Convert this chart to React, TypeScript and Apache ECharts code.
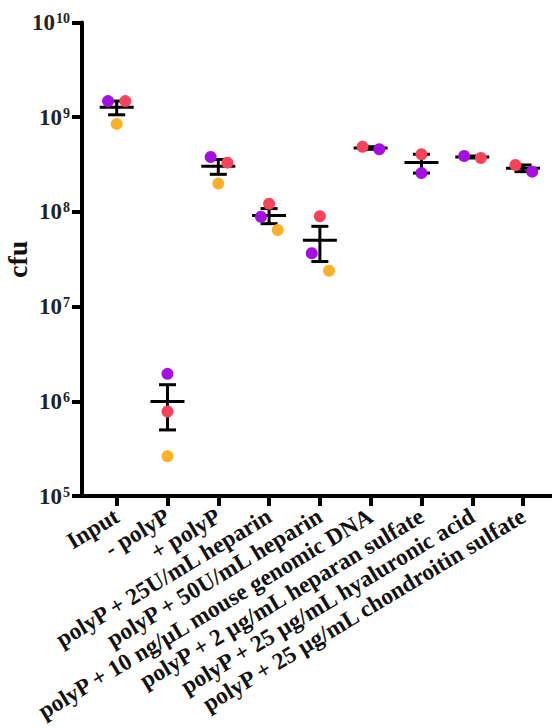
import React, { useEffect, useRef } from 'react';
import * as echarts from 'echarts';

const categories = [
  'Input',
  '- polyP',
  '+ polyP',
  'polyP + 25U/mL heparin',
  'polyP + 50U/mL heparin',
  'polyP + 10 ng/µL mouse genomic DNA',
  'polyP + 2 µg/mL heparan sulfate',
  'polyP + 25 µg/mL hyaluronic acid',
  'polyP + 25 µg/mL chondroitin sulfate',
];

const purpleValues = [1.48e9, 1.95e6, 3.8e8, 8.9e7, 3.66e7, 4.58e8, 2.57e8, 3.89e8, 2.66e8];
const redValues = [1.48e9, 7.8e5, 3.31e8, 1.22e8, 9.0e7, 4.88e8, 4.06e8, 3.71e8, 3.13e8];
const orangeValues: (number | null)[] = [8.5e8, 2.63e5, 1.99e8, 6.44e7, 2.39e7, null, null, null, null];

// horizontal jitter of the dots inside each category (category units)
const purpleJitter = [-0.17, 0, -0.15, -0.16, -0.16, 0.17, 0, -0.16, 0.18];
const redJitter = [0.17, 0, 0.18, 0, 0, -0.16, 0, 0.17, -0.15];
const orangeJitter = [0, 0, 0, 0.17, 0.18, 0, 0, 0, 0];

const yMin = 1e5;
const yMax = 1e10;

const FONT = 'Liberation Serif';
const PURPLE = '#A50FDF';
const RED = '#F8435B';
const ORANGE = '#FDB12A';

function stats(i: number) {
  const vals = [purpleValues[i], redValues[i], orangeValues[i]].filter(
    (v): v is number => v != null
  );
  const n = vals.length;
  const mean = vals.reduce((a, b) => a + b, 0) / n;
  const sd = Math.sqrt(vals.reduce((a, b) => a + (b - mean) ** 2, 0) / (n - 1));
  const sem = sd / Math.sqrt(n);
  return [i + 1, mean, mean - sem, mean + sem];
}

export default function App() {
  const ref = useRef<HTMLDivElement>(null);
  useEffect(() => {
    if (!ref.current) return;
    const chart = echarts.init(ref.current, null, { renderer: 'svg' });
    const catPositions = categories.map((_, i) => i + 1);
    const pts = (vals: (number | null)[], jit: number[]) =>
      vals.map((v, i) => (v == null ? null : [i + 1 + jit[i], v])).filter((d) => d != null);

    chart.setOption({
      animation: false,
      backgroundColor: '#fff',
      textStyle: { fontFamily: FONT },
      grid: {
        left: 82,
        right: 0,
        top: 22.5,
        bottom: 232,
        containLabel: false,
        outerBoundsMode: 'none',
      },
      xAxis: {
        type: 'value',
        min: 0.317,
        max: 9.57,
        splitLine: { show: false },
        axisLine: { show: true, lineStyle: { color: '#000', width: 4 } },
        axisTick: {
          show: true,
          customValues: catPositions,
          length: 10,
          lineStyle: { color: '#000', width: 4 },
        },
        axisLabel: {
          customValues: catPositions,
          formatter: (v: number) => categories[Math.round(v) - 1] ?? '',
          rotate: 31,
          margin: 18,
          fontFamily: FONT,
          fontWeight: 'bold',
          fontSize: 23.5,
          color: '#111',
        },
      },
      yAxis: {
        type: 'log',
        logBase: 10,
        min: yMin,
        max: yMax,
        name: 'cfu',
        nameLocation: 'middle',
        nameGap: 51,
        nameMoveOverlap: false,
        nameTextStyle: { fontFamily: FONT, fontWeight: 'bold', fontSize: 28, color: '#111' },
        splitLine: { show: false },
        minorTick: { show: false },
        axisLine: { show: true, lineStyle: { color: '#000', width: 4 } },
        axisTick: { show: true, length: 10, lineStyle: { color: '#000', width: 4 } },
        axisLabel: {
          margin: 12,
          formatter: (v: number) => `{b|10}{s|${Math.round(Math.log10(v))}}`,
          rich: {
            b: { fontFamily: FONT, fontWeight: 'bold', fontSize: 23, lineHeight: 22, color: '#222' },
            s: {
              fontFamily: FONT,
              fontWeight: 'bold',
              fontSize: 14,
              lineHeight: 14,
              verticalAlign: 'top',
              color: '#222',
              padding: [0, 0, 0, 1],
            },
          },
        },
      },
      series: [
        {
          type: 'custom',
          z: 2,
          data: categories.map((_, i) => stats(i)),
          encode: { x: 0, y: [1, 2, 3] },
          renderItem: (params: any, api: any) => {
            const x = api.value(0);
            const c = api.coord([x, api.value(1)]);
            const lo = api.coord([x, api.value(2)]);
            const hi = api.coord([x, api.value(3)]);
            const style = { stroke: '#000', lineWidth: 3 };
            return {
              type: 'group',
              children: [
                { type: 'line', shape: { x1: c[0], y1: hi[1], x2: c[0], y2: lo[1] }, style },
                { type: 'line', shape: { x1: c[0] - 8.5, y1: hi[1], x2: c[0] + 8.5, y2: hi[1] }, style },
                { type: 'line', shape: { x1: c[0] - 8.5, y1: lo[1], x2: c[0] + 8.5, y2: lo[1] }, style },
                { type: 'line', shape: { x1: c[0] - 17, y1: c[1], x2: c[0] + 17, y2: c[1] }, style },
              ],
            };
          },
        },
        {
          type: 'scatter',
          z: 3,
          symbolSize: 12,
          itemStyle: { color: ORANGE, opacity: 1 },
          data: pts(orangeValues, orangeJitter),
        },
        {
          type: 'scatter',
          z: 3,
          symbolSize: 12,
          itemStyle: { color: PURPLE, opacity: 1 },
          data: pts(purpleValues, purpleJitter),
        },
        {
          type: 'scatter',
          z: 3,
          symbolSize: 12,
          itemStyle: { color: RED, opacity: 1 },
          data: pts(redValues, redJitter),
        },
      ],
    });
    return () => chart.dispose();
  }, []);
  return (
    <div
      ref={ref}
      style={{ position: 'fixed', left: 0, top: 0, width: 552, height: 728 }}
    />
  );
}
